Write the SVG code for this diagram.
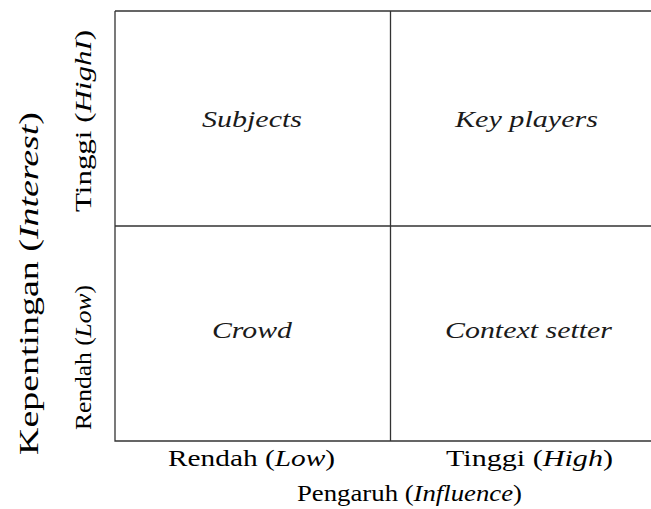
<svg xmlns="http://www.w3.org/2000/svg" width="651" height="509" viewBox="0 0 651 509">
<style>
.bg{fill:#ffffff}
.ln{stroke:#333333;stroke-width:1.3;fill:none}
.q{font-family:"Liberation Serif","Times New Roman",serif;font-style:italic;font-size:23px;fill:#1a1a1a}
.lb{font-family:"Liberation Serif","Times New Roman",serif;font-size:24px;fill:#000000}
.big{font-size:27px}
.it{font-style:italic}
</style>
<rect class="bg" x="0" y="0" width="651" height="509"/>
<g id="connectors">
<path class="ln" d="M115,11 H652 M115,11 V441 H652 M390.5,11 V441 M115,226 H652"/>
</g>
<g id="q-subjects"><text class="q" x="202" y="127" textLength="100" lengthAdjust="spacingAndGlyphs">Subjects</text></g>
<g id="q-keyplayers"><text class="q" x="455" y="127" textLength="143" lengthAdjust="spacingAndGlyphs">Key players</text></g>
<g id="q-crowd"><text class="q" x="212" y="338" textLength="80" lengthAdjust="spacingAndGlyphs">Crowd</text></g>
<g id="q-context"><text class="q" x="445" y="338" textLength="167" lengthAdjust="spacingAndGlyphs">Context setter</text></g>
<g id="x-low"><text class="lb" x="168" y="466" textLength="167" lengthAdjust="spacingAndGlyphs">Rendah (<tspan class="it">Low</tspan>)</text></g>
<g id="x-high"><text class="lb" x="446" y="466" textLength="167" lengthAdjust="spacingAndGlyphs">Tinggi (<tspan class="it">High</tspan>)</text></g>
<g id="x-title"><text class="lb" x="297" y="501" textLength="225" lengthAdjust="spacingAndGlyphs">Pengaruh (<tspan class="it">Influence</tspan>)</text></g>
<g id="y-title"><text class="lb big" x="38" y="455" transform="rotate(-90 38 455)" textLength="343" lengthAdjust="spacingAndGlyphs">Kepentingan (<tspan class="it">Interest</tspan>)</text></g>
<g id="y-high"><text class="lb" x="91" y="212" transform="rotate(-90 91 212)" textLength="182" lengthAdjust="spacingAndGlyphs">Tinggi (<tspan class="it">HighI</tspan>)</text></g>
<g id="y-low"><text class="lb" x="91" y="430" transform="rotate(-90 91 430)" textLength="145" lengthAdjust="spacingAndGlyphs">Rendah (<tspan class="it">Low</tspan>)</text></g>
</svg>
